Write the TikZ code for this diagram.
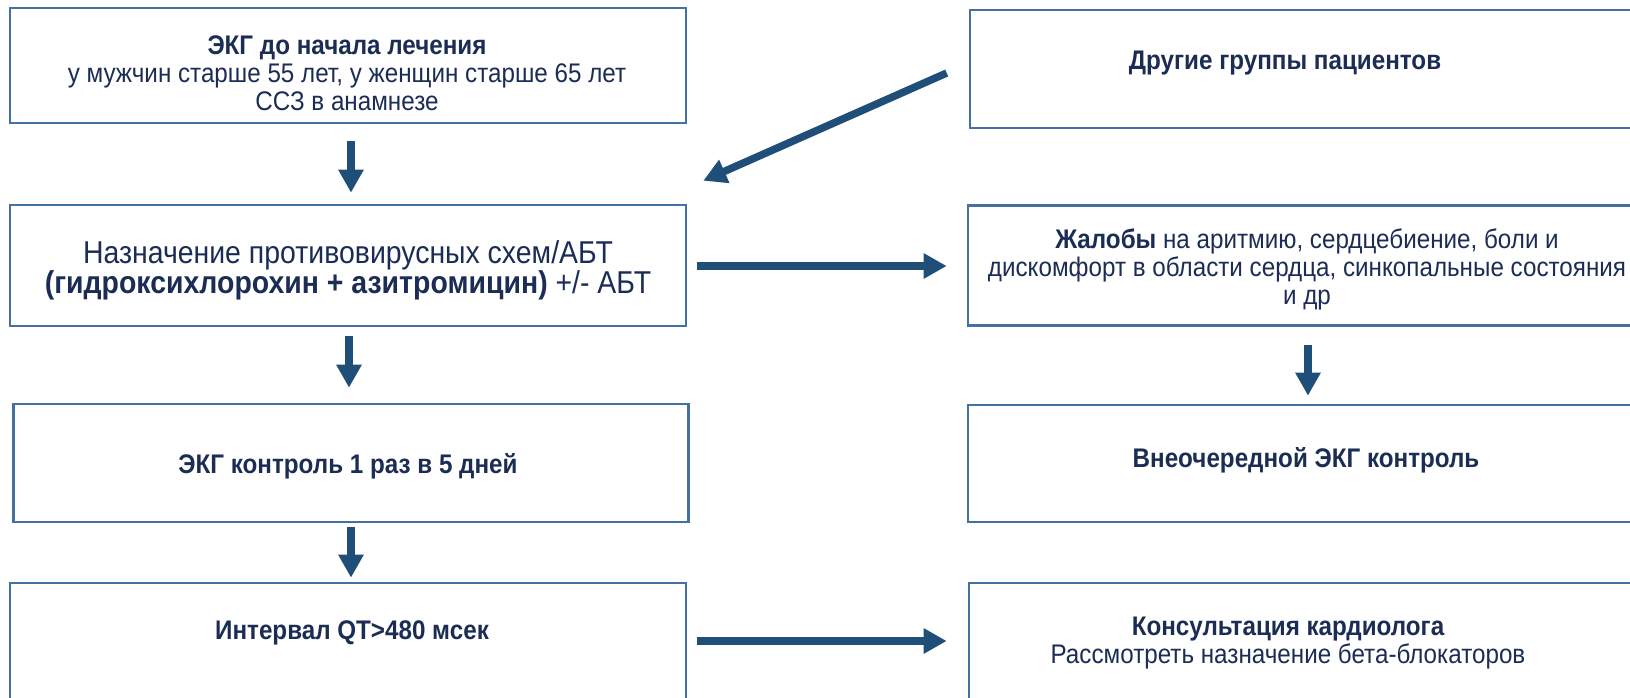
\documentclass[tikz,border=0pt]{standalone}
\usepackage{fontspec}
\setmainfont{Liberation Sans}[FakeStretch=0.9]
\usetikzlibrary{arrows.meta,calc}
\definecolor{arrowc}{HTML}{1F4E79}
\definecolor{boxc}{HTML}{4472A0}
\definecolor{txtc}{HTML}{1C2D55}
\begin{document}
\begin{tikzpicture}[x=1pt,y=-1pt,
  box/.style={draw=boxc, line width=2.6pt, rectangle, inner sep=0pt, minimum width=676pt},
  txt/.style={text=txtc, align=center, inner sep=0pt, font=\fontsize{26.9}{28}\selectfont},
  btxt/.style={txt, font=\fontsize{26.9}{28}\selectfont\bfseries},
  bigtxt/.style={txt, font=\fontsize{31.6}{30}\selectfont},
  arr/.style={draw=arrowc, line width=7.5pt, -{Triangle[width=24pt,length=23pt]}}]
\useasboundingbox (0,0) rectangle (1630,698);
\fill[white] (0,0) rectangle (1630,698);
% boxes
\node[box, minimum height=115pt] (b1) at (348,65.5) {};
\node[box, minimum height=121pt] (b2) at (348,265.5) {};
\node[box, minimum height=118pt, minimum width=675pt] (b3) at (351,463) {};
\node[box, minimum height=118pt] (b4) at (348,642) {};
\node[box, minimum height=118pt] (r1) at (1308,69) {};
\node[box, minimum height=120pt] (r2) at (1306,265.6) {};
\node[box, minimum height=117pt] (r3) at (1306,463.5) {};
\node[box, minimum height=118pt] (r4) at (1307,642) {};
% texts
\node[txt] (t1) at (347,73) {{\bfseries ЭКГ до начала лечения}\\у мужчин старше 55 лет, у женщин старше 65 лет\\ССЗ в анамнезе};
\node[bigtxt] (t2) at (348,270) {Назначение противовирусных схем/АБТ\\{\bfseries (гидроксихлорохин + азитромицин)} +/- АБТ};
\node[btxt] (t3) at (348,466) {ЭКГ контроль 1 раз в 5 дней};
\node[btxt] (t4) at (352,633) {Интервал QT>480 мсек};
\node[btxt] (u1) at (1285,63) {Другие группы пациентов};
\node[txt] (u2) at (1307,269) {{\bfseries Жалобы} на аритмию, сердцебиение, боли и\\дискомфорт в области сердца, синкопальные состояния\\и др};
\node[btxt] (u3) at (1306,460.5) {Внеочередной ЭКГ контроль};
\node[txt] (u4) at (1288,643) {{\bfseries Консультация кардиолога}\\Рассмотреть назначение бета-блокаторов};
% arrows
\draw[arr] ($(b1.south)+(3,17)$) -- ($(b2.north)+(3,-11)$);
\draw[arr] ($(b2.south)+(1,9)$) -- ($(b3.north)+(-2,-15)$);
\draw[arr] ($(b3.south)+(0,4)$) -- ($(b4.north)+(3,-4)$);
\draw[arr] ($(r2.south)+(2,18)$) -- ($(r3.north)+(2,-8)$);
\draw[arr] ($(b2.east)+(10,0.5)$) -- ($(r2.west)+(-20,0.4)$);
\draw[arr] ($(b4.east)+(10,-1)$) -- ($(r4.west)+(-21,-1)$);
\draw[arr] ($(r1.west)+(-22,4)$) -- ($(b2.north east)+(16,-23)$);
\end{tikzpicture}
\end{document}
